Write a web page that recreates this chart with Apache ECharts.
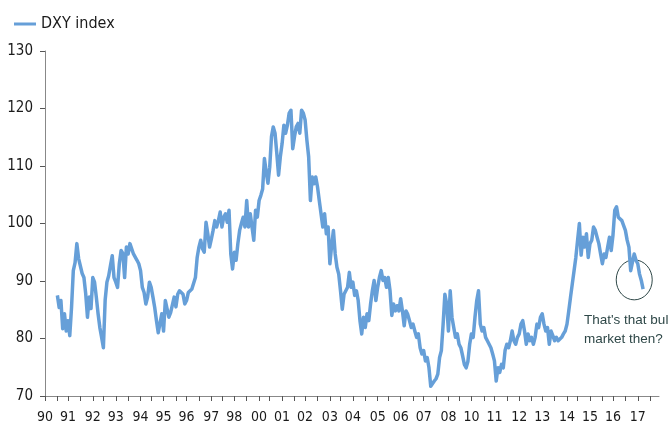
<!DOCTYPE html>
<html>
<head>
<meta charset="utf-8">
<script src="https://cdn.jsdelivr.net/npm/echarts@6/dist/echarts.min.js"></script>
<style>
  html, body { margin: 0; padding: 0; background: #ffffff; }
  #chart { width: 668px; height: 425px; }
</style>
</head>
<body>
<div id="chart"></div>
<script>
// Month range covered by the x axis
const firstYear = 1990;
const lastYear = 2018;
// First month that has a DXY reading (index into the month list)
const seriesStart = '1990-08';

// US dollar index (DXY), monthly readings from Aug 1990
const dxy = [
  87.5, 85.4, 86.6, 81.7, 84.3, 81.3, 83.1, 80.5, 85.4, 91.8,
  93.2, 96.5, 93.9, 94.1, 91.3, 90.6, 87.8, 83.7, 87.2, 85.2,
  90.6, 89.8, 87.2, 84.3, 81.9, 80.2, 78.4, 86.7, 89.8, 90.9,
  92.7, 94.4, 90.6, 89.8, 88.9, 93.0, 95.3, 94.8, 90.6, 95.9,
  94.7, 96.5, 96.8, 94.7, 94.7, 93.6, 93.0, 91.8, 88.9, 88.0,
  86.0, 87.2, 89.8, 88.9, 87.2, 85.4, 83.1, 81.0, 80.8, 84.3,
  81.3, 86.6, 86.9, 83.7, 84.5, 84.8, 87.2, 85.5, 87.7, 88.3,
  88.6, 87.7, 86.0, 86.6, 88.0, 87.7, 88.6, 88.3, 90.6, 94.1,
  95.9, 97.1, 95.6, 95.0, 100.2, 98.2, 95.9, 97.3, 98.8, 100.5,
  99.4, 100.5, 102.0, 99.4, 101.1, 101.7, 100.2, 102.3, 94.7, 92.1,
  95.0, 93.6, 96.5, 98.8, 100.0, 101.1, 99.4, 104.0, 99.4, 101.7,
  99.4, 97.1, 102.3, 101.1, 104.0, 104.9, 106.0, 111.3, 109.0, 107.0,
  109.8, 115.1, 116.8, 115.7, 112.2, 108.4, 111.6, 113.9, 117.1, 115.7,
  117.1, 119.2, 119.7, 113.0, 115.1, 116.8, 117.4, 115.7, 119.7, 119.2,
  118.0, 114.5, 111.6, 104.0, 108.1, 106.9, 108.1, 106.4, 104.0, 101.7,
  99.4, 101.7, 98.2, 99.4, 93.0, 96.2, 98.8, 94.7, 92.4, 91.2,
  88.3, 85.1, 87.7, 88.3, 88.9, 91.5, 88.9, 89.8, 87.5, 88.3,
  86.6, 83.1, 80.8, 83.7, 81.9, 84.3, 83.1, 86.0, 88.3, 90.1,
  86.6, 88.9, 90.6, 91.8, 90.1, 90.6, 88.9, 90.6, 88.3, 84.0,
  86.0, 84.8, 85.7, 84.8, 86.9, 84.8, 82.2, 84.8, 84.2, 83.1,
  81.9, 82.5, 81.3, 80.2, 80.8, 78.4, 77.3, 77.9, 76.1, 76.7,
  74.9, 71.7, 72.0, 72.6, 73.0, 73.8, 76.7, 77.9, 82.5, 87.7,
  86.0, 81.3, 88.3, 83.7, 81.9, 80.2, 80.8, 79.0, 78.4, 77.0,
  75.5, 74.9, 76.0, 79.0, 80.8, 80.2, 83.7, 86.6, 88.3, 82.5,
  81.3, 81.9, 80.2, 79.6, 79.0, 78.4, 77.3, 76.1, 72.6, 74.9,
  74.1, 75.5, 74.9, 77.9, 79.0, 78.4, 79.6, 81.3, 79.6, 79.0,
  80.2, 80.8, 82.5, 83.1, 81.3, 79.0, 80.8, 79.6, 80.2, 79.0,
  80.2, 82.5, 81.9, 83.7, 84.3, 82.5, 81.3, 81.9, 79.0, 81.3,
  80.5, 79.6, 80.2, 79.6, 79.9, 80.2, 80.8, 81.3, 82.5, 84.8,
  87.2, 89.5, 91.8, 94.1, 97.1, 100.0, 94.5, 97.6, 95.9, 98.2,
  94.1, 96.5, 97.1, 99.4, 98.8, 97.6, 96.5, 94.7, 93.0, 94.7,
  94.1, 95.9, 97.6, 95.3, 98.0, 102.3, 102.9, 101.1, 101.4, 100.5,
  100.2, 98.8, 97.1, 95.9, 91.8, 93.3, 94.7, 93.6, 93.0, 91.2,
  90.1, 88.6
];

// Year labels printed under the axis (one every ~13.4 months)
const tickLabels = ['90','91','92','93','94','95','96','97','98','00','01','02','03',
                    '04','05','06','07','08','10','11','12','13','14','15','16','17'];
const monthsPerLabel = 13.394;

const yTicks = { min: 70, max: 130, step: 10 };

// Build the month categories
const months = [];
for (let y = firstYear; y <= lastYear; y++) {
  for (let m = 1; m <= 12; m++) months.push(y + '-' + (m < 10 ? '0' + m : m));
}
const startIdx = months.indexOf(seriesStart);
const seriesData = months.map((_, i) => {
  const k = i - startIdx;
  return (k >= 0 && k < dxy.length) ? dxy[k] : null;
});

const labelIdx = tickLabels.map((_, k) => Math.round(k * monthsPerLabel));
const tickIdx = [];
for (let j = 0; Math.round(j * monthsPerLabel / 2) < months.length; j++) {
  tickIdx.push(Math.round(j * monthsPerLabel / 2));
}

const FONT = "'DejaVu Sans Condensed', 'Liberation Sans', sans-serif";
const AXIS_GREY = '#888888';
const LINE_BLUE = '#669fd8';

const chart = echarts.init(document.getElementById('chart'), null, { renderer: 'canvas' });

chart.setOption({
  animation: false,
  backgroundColor: '#ffffff',
  textStyle: { fontFamily: FONT },
  legend: {
    data: ['DXY index'],
    left: 9,
    top: 11,
    icon: 'rect',
    itemWidth: 22,
    itemHeight: 3,
    itemGap: 10,
    textStyle: { fontSize: 16, color: '#1a1a1a', fontFamily: FONT, padding: [0, 0, 0, 0] }
  },
  grid: { left: 45, right: 9, top: 51, bottom: 29, containLabel: false },
  xAxis: {
    type: 'category',
    data: months,
    boundaryGap: false,
    axisLine: { lineStyle: { color: AXIS_GREY, width: 1 } },
    axisTick: {
      show: true,
      inside: false,
      length: 5,
      interval: (i) => tickIdx.indexOf(i) >= 0,
      lineStyle: { color: '#555555' }
    },
    axisLabel: {
      interval: (i) => labelIdx.indexOf(i) >= 0,
      formatter: (v, i) => {
        const k = labelIdx.indexOf(i);
        return k >= 0 ? tickLabels[k] : '';
      },
      fontSize: 14,
      color: '#1a1a1a',
      margin: 14,
      fontFamily: FONT
    },
    splitLine: { show: false }
  },
  yAxis: {
    type: 'value',
    min: yTicks.min,
    max: yTicks.max,
    interval: yTicks.step,
    axisLine: { show: true, lineStyle: { color: AXIS_GREY, width: 1 } },
    axisTick: { show: true, inside: false, length: 5, lineStyle: { color: '#555555' } },
    axisLabel: { fontSize: 15, color: '#1a1a1a', margin: 12, fontFamily: FONT },
    splitLine: { show: false }
  },
  series: [{
    name: 'DXY index',
    type: 'line',
    data: seriesData,
    symbol: 'none',
    connectNulls: false,
    lineStyle: { color: LINE_BLUE, width: 3.5, join: 'round' },
    itemStyle: { color: LINE_BLUE }
  }]
});

// Annotation: circle around the latest slide plus a comment
const centre = chart.convertToPixel({ gridIndex: 0 }, ['2017-10', 90.2]);
chart.setOption({
  graphic: [
    {
      type: 'ellipse',
      shape: { cx: centre[0], cy: centre[1], rx: 18, ry: 20 },
      style: { fill: 'none', stroke: '#2f4848', lineWidth: 1 },
      silent: true
    },
    {
      type: 'text',
      left: 584,
      top: 311,
      style: {
        text: "That's that bull\nmarket then?",
        font: "13.5px 'Liberation Sans', sans-serif",
        fill: '#2f4848',
        lineHeight: 19
      },
      silent: true
    }
  ]
});
</script>
</body>
</html>
